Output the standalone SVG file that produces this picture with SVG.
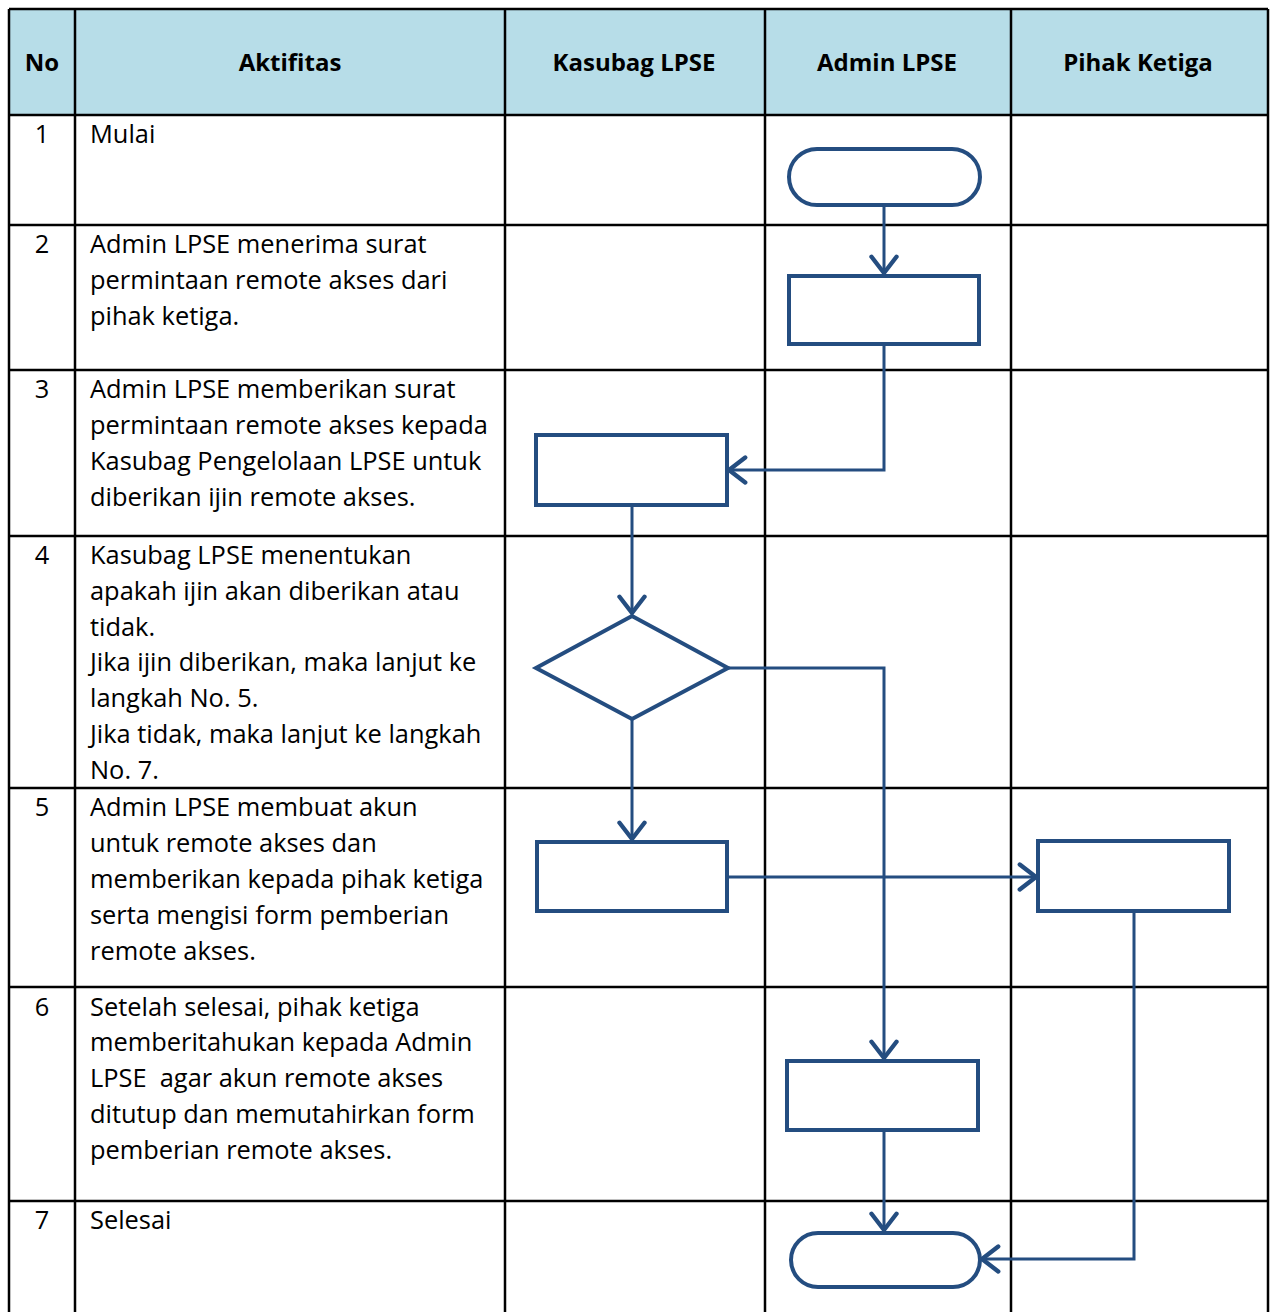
<svg xmlns="http://www.w3.org/2000/svg" width="1274" height="1312" viewBox="0 0 1274 1312">
<style>
.grid{stroke:#000;stroke-width:2.5;fill:none}
.t{font-family:"Open Sans","Liberation Sans",sans-serif;font-size:25.4px;fill:#000}
.h{font-family:"Open Sans","Liberation Sans",sans-serif;font-size:24px;font-weight:bold;fill:#000;text-anchor:middle}
.n{text-anchor:middle}
.shape{fill:#fff;stroke:#244d80;stroke-width:4}
.con{fill:none;stroke:#244d80;stroke-width:3}
</style>
<defs>
<marker id="arr" markerUnits="userSpaceOnUse" markerWidth="30" markerHeight="30" viewBox="-16 -12 20 24" refX="0" refY="0" orient="auto">
<path d="M-13,-10 L0,0 L-13,10" fill="none" stroke="#244d80" stroke-width="3.5" stroke-linecap="round" stroke-linejoin="miter"/>
</marker>
</defs>
<rect x="9" y="9" width="1259" height="106" fill="#b7dde8"/>
<g id="grid" class="grid">
<line x1="9" y1="9" x2="1268" y2="9"/>
<line x1="9" y1="115" x2="1268" y2="115"/>
<line x1="9" y1="225" x2="1268" y2="225"/>
<line x1="9" y1="370" x2="1268" y2="370"/>
<line x1="9" y1="536" x2="1268" y2="536"/>
<line x1="9" y1="788" x2="1268" y2="788"/>
<line x1="9" y1="987" x2="1268" y2="987"/>
<line x1="9" y1="1201" x2="1268" y2="1201"/>
<line x1="9" y1="9" x2="9" y2="1312"/>
<line x1="75" y1="9" x2="75" y2="1312"/>
<line x1="505" y1="9" x2="505" y2="1312"/>
<line x1="765" y1="9" x2="765" y2="1312"/>
<line x1="1011" y1="9" x2="1011" y2="1312"/>
<line x1="1268" y1="9" x2="1268" y2="1312"/>
</g>
<g id="header">
<text class="h" x="42" y="71">No</text>
<text class="h" x="290" y="71">Aktifitas</text>
<text class="h" x="634" y="71">Kasubag LPSE</text>
<text class="h" x="887" y="71">Admin LPSE</text>
<text class="h" x="1138" y="71">Pihak Ketiga</text>
</g>
<g id="numbers" class="t n">
<text x="42" y="143">1</text>
<text x="42" y="253">2</text>
<text x="42" y="398">3</text>
<text x="42" y="564">4</text>
<text x="42" y="816">5</text>
<text x="42" y="1016">6</text>
<text x="42" y="1229">7</text>
</g>
<g id="activities" class="t">
<text x="90" y="143">Mulai</text>
<text x="90" y="253">Admin LPSE menerima surat</text>
<text x="90" y="289">permintaan remote akses dari</text>
<text x="90" y="325">pihak ketiga.</text>
<text x="90" y="398">Admin LPSE memberikan surat</text>
<text x="90" y="434">permintaan remote akses kepada</text>
<text x="90" y="470">Kasubag Pengelolaan LPSE untuk</text>
<text x="90" y="506">diberikan ijin remote akses.</text>
<text x="90" y="564">Kasubag LPSE menentukan</text>
<text x="90" y="600">apakah ijin akan diberikan atau</text>
<text x="90" y="636">tidak.</text>
<text x="90" y="671">Jika ijin diberikan, maka lanjut ke</text>
<text x="90" y="707">langkah No. 5.</text>
<text x="90" y="743">Jika tidak, maka lanjut ke langkah</text>
<text x="90" y="779">No. 7.</text>
<text x="90" y="816">Admin LPSE membuat akun</text>
<text x="90" y="852">untuk remote akses dan</text>
<text x="90" y="888">memberikan kepada pihak ketiga</text>
<text x="90" y="924">serta mengisi form pemberian</text>
<text x="90" y="960">remote akses.</text>
<text x="90" y="1016">Setelah selesai, pihak ketiga</text>
<text x="90" y="1051">memberitahukan kepada Admin</text>
<text x="90" y="1087" xml:space="preserve">LPSE  agar akun remote akses</text>
<text x="90" y="1123">ditutup dan memutahirkan form</text>
<text x="90" y="1159">pemberian remote akses.</text>
<text x="90" y="1229">Selesai</text>
</g>
<g id="connectors" class="con">
<path d="M884,205 L884,273" marker-end="url(#arr)"/>
<path d="M884,344 L884,470 L729,470" marker-end="url(#arr)"/>
<path d="M632,505 L632,613" marker-end="url(#arr)"/>
<path d="M632,719 L632,839" marker-end="url(#arr)"/>
<path d="M728,668 L884,668 L884,1058" marker-end="url(#arr)"/>
<path d="M727,877 L1036,877" marker-end="url(#arr)"/>
<path d="M884,1130 L884,1230" marker-end="url(#arr)"/>
<path d="M1134,911 L1134,1259 L982,1259" marker-end="url(#arr)"/>
</g>
<g id="start"><rect class="shape" x="789" y="149" width="191" height="56" rx="28"/></g>
<g id="step2"><rect class="shape" x="789" y="276" width="190" height="68"/></g>
<g id="step3"><rect class="shape" x="536" y="435" width="191" height="70"/></g>
<g id="decision"><polygon class="shape" points="632,616 728,668 632,719 536,668"/></g>
<g id="step5"><rect class="shape" x="537" y="842" width="190" height="69"/></g>
<g id="step5b"><rect class="shape" x="1038" y="841" width="191" height="70"/></g>
<g id="step6"><rect class="shape" x="787" y="1061" width="191" height="69"/></g>
<g id="end"><rect class="shape" x="791" y="1233" width="189" height="54" rx="27"/></g>
</svg>
